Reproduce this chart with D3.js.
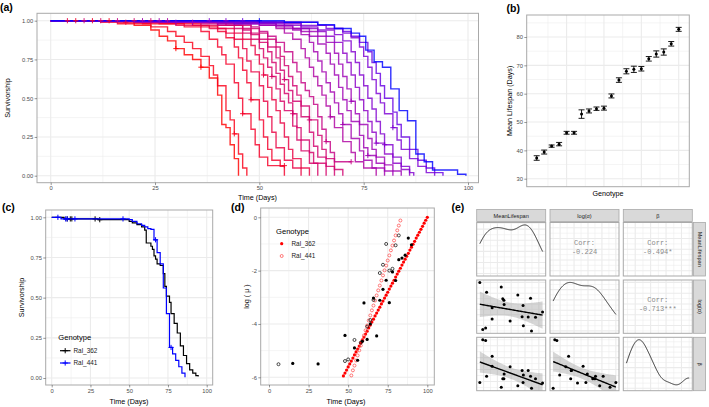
<!DOCTYPE html>
<html><head><meta charset="utf-8">
<script src="https://cdn.jsdelivr.net/npm/d3@7"></script>
<style>body{margin:0;background:#fff}svg{display:block}</style>
</head><body><svg id="c" width="709" height="407"></svg>
<script>
// ---------------- DATA ----------------
// (a) Kaplan-Meier curves for 20 genotypes (ordered by mean lifespan), [day, survivorship]
const survCurves = [
 [[0,1],[20,.97],[24,.94],[26,.90],[28,.87],[30,.82],[32,.78],[34,.75],[36,.70],[38,.63],[40,.52],[41,.33],[42,.31],[43,.20],[44,.11],[45,0]],
 [[0,1],[16,.98],[24,.96],[28,.93],[30,.90],[32,.86],[34,.82],[36,.77],[38,.71],[39,.65],[40,.58],[42,.42],[43,.36],[44,.27],[45,.14],[46,.05],[47,0]],
 [[0,1],[22,.98],[32,.96],[36,.93],[38,.88],[40,.83],[41,.78],[42,.72],[44,.60],[45,.50],[46,.40],[48,.30],[49,.20],[50,.12],[52,.065],[56,.065]],
 [[0,1],[26,.98],[36,.96],[40,.93],[42,.89],[44,.83],[45,.76],[46,.68],[47,.60],[48,.49],[50,.36],[51,.25],[52,.17],[53,.10],[55,.06],[56,0]],
 [[0,1],[12,.99],[30,.97],[38,.95],[42,.92],[44,.88],[46,.82],[47,.74],[48,.67],[50,.58],[51,.48],[52,.38],[53,.28],[54,.18],[56,.10],[58,.05],[60,0]],
 [[0,1],[20,.99],[34,.97],[40,.95],[44,.92],[46,.88],[48,.84],[49,.78],[50,.72],[51,.65],[52,.57],[53,.49],[54,.42],[55,.34],[56,.25],[57,.17],[58,.11],[60,.05],[62,0]],
 [[0,1],[24,.99],[40,.97],[44,.95],[46,.92],[48,.88],[50,.82],[51,.76],[52,.70],[53,.64],[54,.56],[55,.48],[56,.42],[58,.32],[59,.23],[60,.16],[62,.08],[64,0]],
 [[0,1],[30,.99],[42,.97],[46,.95],[48,.91],[50,.86],[52,.80],[53,.73],[54,.66],[55,.59],[56,.53],[57,.47],[58,.40],[59,.31],[60,.23],[62,.15],[63,.08],[66,0]],
 [[0,1],[20,.99],[40,.97],[46,.94],[48,.92],[50,.88],[52,.83],[54,.76],[55,.68],[56,.62],[57,.55],[58,.48],[60,.38],[62,.28],[63,.19],[64,.12],[66,.06],[68,0]],
 [[0,1],[28,.99],[44,.97],[48,.95],[50,.92],[52,.88],[54,.83],[55,.77],[56,.71],[57,.64],[58,.58],[59,.52],[60,.45],[62,.36],[64,.26],[65,.17],[66,.11],[68,.04],[70,0]],
 [[0,1],[36,.98],[48,.96],[50,.93],[52,.90],[54,.86],[56,.80],[58,.73],[59,.67],[60,.60],[61,.55],[62,.51],[63,.46],[64,.38],[65,.30],[66,.22],[67,.15],[68,.09],[72,.09]],
 [[0,1],[30,.99],[50,.97],[54,.95],[56,.92],[58,.88],[60,.82],[61,.76],[62,.70],[63,.64],[64,.58],[65,.52],[66,.45],[67,.38],[68,.31],[70,.22],[72,.15],[73,.09],[75,.05],[78,0]],
 [[0,1],[40,.98],[54,.96],[58,.94],[60,.91],[62,.86],[63,.80],[64,.74],[65,.67],[66,.60],[67,.54],[68,.47],[69,.40],[70,.33],[72,.24],[74,.16],[75,.10],[77,.05],[80,0]],
 [[0,1],[20,.99],[50,.97],[56,.95],[60,.93],[62,.90],[64,.85],[66,.79],[67,.72],[68,.65],[69,.57],[70,.49],[71,.42],[72,.35],[74,.26],[75,.18],[76,.13],[78,.08],[80,.03],[82,0]],
 [[0,1],[36,.99],[54,.97],[58,.95],[62,.93],[64,.90],[66,.86],[68,.79],[69,.72],[70,.64],[71,.56],[72,.48],[73,.40],[74,.33],[76,.24],[77,.17],[78,.12],[80,.07],[82,.03],[84,0]],
 [[0,1],[26,.99],[56,.97],[60,.95],[64,.93],[66,.90],[68,.86],[70,.79],[71,.73],[72,.65],[73,.57],[74,.49],[75,.42],[76,.35],[77,.28],[78,.21],[80,.14],[82,.08],[84,.04],[86,0]],
 [[0,1],[44,.98],[60,.96],[64,.94],[68,.91],[70,.87],[72,.80],[73,.73],[74,.65],[75,.58],[76,.50],[77,.43],[78,.35],[79,.27],[80,.20],[82,.12],[84,.06],[86,.02],[87,0]],
 [[0,1],[40,.99],[60,.97],[66,.95],[70,.92],[72,.89],[74,.83],[75,.77],[76,.70],[77,.62],[78,.53],[79,.47],[80,.40],[82,.31],[83,.23],[84,.17],[86,.11],[88,.06],[90,.02],[92,0]],
 [[0,1],[50,.99],[64,.97],[68,.95],[70,.93],[72,.90],[74,.86],[76,.80],[77,.73],[78,.66],[79,.58],[80,.50],[82,.41],[83,.33],[84,.25],[86,.17],[88,.10],[90,.05],[92,.02],[94,0]],
 [[0,1],[56,.99],[64,.975],[68,.95],[72,.92],[74,.90],[75.5,.81],[77.5,.735],[79.5,.70],[81.5,.56],[83.5,.42],[85.5,.355],[87.5,.14],[89.5,.09],[91.5,.037],[97.5,.009],[99.5,0]]
];
// censored observations [curve index, day]
const survCensor = [[5,4],[2,6],[8,8],[3,10],[6,12],[1,14],[10,16],[4,18],[7,20],[12,22],[9,24],[14,26],[11,28],[0,30],[15,30],[13,34],[17,38],[16,42],[18,46],[19,50],
 [0,36],[1,44],[2,46],[3,48],[5,51],[6,53],[7,58],[8,56],[9,62],[10,66],[11,67],[12,70],[13,76],[14,72],[15,78],[16,80],[17,82],[2,56],[10,72]];
const dayTicks = [0,25,50,75,100];
const dayMinor = [12.5,37.5,62.5,87.5];
const survTicks = [0,0.25,0.5,0.75,1];
const survLabels = ["0.00","0.25","0.50","0.75","1.00"];
const survMinor = [0.125,0.375,0.625,0.875];

// (b) mean lifespan per genotype (ranked) and standard errors
const genotypeRank = [1,2,3,4,5,6,7,8,9,10,11,12,13,14,15,16,17,18,19,20];
const meanLifespan = [37.3,39.4,41.5,42.2,46.2,46.2,52.8,53.9,54.7,54.9,59.2,64.8,67.9,68.6,68.8,72.3,74.0,74.7,77.6,82.7];
const lifespanSE = [0.8,0.7,0.4,0.6,0.5,0.5,1.5,0.7,0.6,0.7,0.7,0.8,0.9,1.1,0.8,0.8,1.1,1.1,0.8,0.7];
const lifeTicks = [30,40,50,60,70,80];
const lifeMinor = [35,45,55,65,75,85];
const rankMajor = [5,10,15,20];
const rankMinor = [2.5,7.5,12.5,17.5];

// (c) two genotypes
const genoNames = ["Ral_362","Ral_441"];
const ral362Surv = [[0,1],[8,.99],[30,.985],[50,.975],[52,.965],[55,.955],[58,.94],[60,.92],[61,.84],[64,.82],[65,.80],[66,.76],[67,.74],[68,.71],[70,.70],[72,.65],[73,.57],[74,.51],[76,.47],[77,.40],[79,.34],[81,.28],[83,.20],[85,.14],[87,.09],[89,.05],[91,.03],[93,.015],[94.5,.01]];
const ral441Surv = [[0,1],[6,.99],[50,.985],[52,.975],[55,.96],[58,.95],[60,.94],[62,.93],[64,.925],[66,.86],[68,.78],[70,.71],[72,.56],[74,.40],[76,.19],[78,.15],[80,.11],[82,.07],[84,.03],[86,.005]];
const ral362Censor = [10,12,13,28,31];
const ral441Censor = [4,9,10,15,46,67,77];

// (d) mortality: observed log(mu) (black) and fitted Gompertz (red)
const ral362ObsDay = [15,31,48,54,56,59,60,62,64,66,68,70,72,74,76,78,80,82,84,86,88,90];
const ral362ObsLogMu = [-5.48,-5.50,-4.43,-4.90,-5.36,-4.65,-3.21,-4.58,-4.00,-3.03,-4.45,-3.11,-2.70,-2.36,-3.20,-2.05,-2.37,-1.59,-1.53,-1.42,-0.78,-1.03];
const ral441ObsDay = [6,48,50,54,58,62,64,66,70,72,74,76,78,80,82];
const ral441ObsLogMu = [-5.51,-5.39,-5.33,-4.60,-4.70,-4.10,-3.85,-3.10,-2.09,-1.78,-1.00,-2.00,-1.93,-1.05,-0.68];
const ral362FitDay = [47,48,49,50,51,52,53,54,55,56,57,58,59,60,61,62,63,64,65,66,67,68,69,70,71,72,73,74,75,76,77,78,79,80,81,82,83,84,85,86,87,88,89,90,91,92,93,94,95,96,97,98,99,100];
const ral362FitLogMu = [-5.95,-5.84,-5.73,-5.61,-5.50,-5.39,-5.28,-5.16,-5.05,-4.94,-4.83,-4.71,-4.60,-4.49,-4.38,-4.27,-4.15,-4.04,-3.93,-3.82,-3.70,-3.59,-3.48,-3.37,-3.25,-3.14,-3.03,-2.92,-2.81,-2.69,-2.58,-2.47,-2.36,-2.24,-2.13,-2.02,-1.91,-1.79,-1.68,-1.57,-1.46,-1.35,-1.23,-1.12,-1.01,-0.90,-0.78,-0.67,-0.56,-0.45,-0.34,-0.22,-0.11,0.00];
const ral441FitDay = [52,53,54,55,56,57,58,59,60,61,62,63,64,65,66,67,68,69,70,71,72,73,74,75,76,77,78,79,80,81,82,83];
const ral441FitLogMu = [-5.93,-5.74,-5.56,-5.37,-5.18,-4.99,-4.81,-4.62,-4.43,-4.24,-4.06,-3.87,-3.68,-3.49,-3.31,-3.12,-2.93,-2.74,-2.56,-2.37,-2.18,-1.99,-1.81,-1.62,-1.43,-1.24,-1.06,-0.87,-0.68,-0.49,-0.31,-0.12];
const logMuTicks = [-6,-4,-2,0];
const logMuLabels = ["-6","-4","-2","0"];
const logMuMinor = [-5,-3,-1];

// (e) Gompertz parameters per genotype (same order as meanLifespan)
const logAlpha = [-6.0,-10.38,-10.23,-6.91,-9.39,-8.35,-6.42,-7.51,-7.66,-8.05,-9.59,-7.16,-9.19,-8.15,-10.03,-9.2,-7.46,-10.5,-9.24,-8.75];
const betaPar = [.0783,.150,.1487,.0889,.1223,.1056,.0704,.0845,.0845,.0924,.1047,.0730,.0986,.0783,.0907,.0986,.0889,.0686,.0845,.0774];
const pairVars = ["MeanLifespan","log(\u03b1)","\u03b2"];
const corrLabels = [["","-0.224","-0.494*"],["","","-0.713***"]];

// ---------------- DRAWING ----------------
const svg = d3.select("#c");
const F = "'Liberation Sans', Arial, Helvetica, sans-serif";
const GRID = "#ebebeb", BORDER = "#a9a9a9", TICKTXT = "#4d4d4d";
const TICK = 5.8, TITLE = 7.2;

function rect(box, fill, stroke, sw) {
  return svg.append("rect").attr("x", box[0]).attr("y", box[1]).attr("width", box[2]-box[0]).attr("height", box[3]-box[1])
    .attr("fill", fill).attr("stroke", stroke || "none").attr("stroke-width", sw || 0);
}
function grid(box, xs, xMaj, xMin, ys, yMaj, yMin) {
  const g = svg.append("g");
  const vl = (v, w) => g.append("line").attr("x1", xs(v)).attr("x2", xs(v)).attr("y1", box[1]).attr("y2", box[3]).attr("stroke", GRID).attr("stroke-width", w);
  const hl = (v, w) => g.append("line").attr("y1", ys(v)).attr("y2", ys(v)).attr("x1", box[0]).attr("x2", box[2]).attr("stroke", GRID).attr("stroke-width", w);
  xMin.forEach(v => vl(v, 0.55)); yMin.forEach(v => hl(v, 0.55));
  xMaj.forEach(v => vl(v, 1.1)); yMaj.forEach(v => hl(v, 1.1));
}
function text(x, y, s, o) {
  o = o || {};
  const t = svg.append("text").attr("x", x).attr("y", y).text(s)
    .attr("font-family", o.family || F).attr("font-size", o.size || TITLE)
    .attr("fill", o.fill || "#000").attr("text-anchor", o.anchor || "start");
  if (o.weight) t.attr("font-weight", o.weight);
  if (o.rotate) t.attr("transform", `rotate(${o.rotate},${x},${y})`);
  return t;
}
function styleAxis(a) {
  a.select(".domain").remove();
  a.selectAll("line").attr("stroke", "#333").attr("stroke-width", 0.5);
  a.selectAll("text").attr("fill", TICKTXT).attr("font-size", TICK).attr("font-family", F);
}
function yAxis(scale, ticks, labels, x) {
  const a = svg.append("g").attr("transform", `translate(${x},0)`)
    .call(d3.axisLeft(scale).tickValues(ticks).tickFormat((d, i) => labels[i]).tickSize(2.4).tickPadding(1.4));
  styleAxis(a);
}
function xAxis(scale, ticks, labels, y) {
  const a = svg.append("g").attr("transform", `translate(0,${y})`)
    .call(d3.axisBottom(scale).tickValues(ticks).tickFormat((d, i) => labels[i]).tickSize(2.4).tickPadding(1.2));
  styleAxis(a);
}
function clip(id, box) {
  svg.append("clipPath").attr("id", id).append("rect").attr("x", box[0]).attr("y", box[1]).attr("width", box[2]-box[0]).attr("height", box[3]-box[1]);
  return svg.append("g").attr("clip-path", `url(#${id})`);
}
function stepValue(curve, t) {
  let v = curve[0][1];
  for (const p of curve) { if (p[0] <= t) v = p[1]; else break; }
  return v;
}
function cross(g, x, y, col, sw) {
  g.append("path").attr("d", `M${x-2.6},${y}H${x+2.6}M${x},${y-2.6}V${y+2.6}`).attr("stroke", col).attr("stroke-width", sw || 1).attr("fill", "none");
}

// ---- (a) ----
{
  const box = [37, 13.3, 478.5, 182.7];
  const x = d3.scaleLinear().domain([0, 100]).range([50.7, 468]);
  const y = d3.scaleLinear().domain([0, 1]).range([175.7, 20.7]);
  rect(box, "#fff");
  grid(box, x, dayTicks, dayMinor, y, survTicks, survMinor);
  const g = clip("ca", box);
  // colour mapped from each genotype's mean lifespan (continuous red -> blue gradient)
  const colScale = d3.scaleLinear().domain(d3.extent(meanLifespan)).range(["#ff0000", "#0000ff"]).interpolate(d3.interpolateLab);
  const col = i => colScale(meanLifespan[i]);
  const line = d3.line().x(d => x(d[0])).y(d => y(d[1])).curve(d3.curveStepAfter);
  survCurves.forEach((c, i) => {
    g.append("path").attr("d", line(c)).attr("fill", "none").attr("stroke", col(i))
      .attr("stroke-width", 1.4).attr("stroke-opacity", 0.82);
  });
  survCensor.forEach(([i, t]) => {
    const c = survCurves[i];
    cross(g, x(t), y(stepValue(c, t)), col(i), 0.9);
  });
  rect(box, "none", BORDER, 1);
  yAxis(y, survTicks, survLabels, box[0]);
  xAxis(x, dayTicks, dayTicks.map(String), box[3]);
  text(9.8, 98, "Survivorship", {anchor: "middle", rotate: -90});
  text(257.5, 199.5, "Time (Days)", {anchor: "middle"});
  text(0, 10.5, "(a)", {size: 10.5, weight: "bold"});
}

// ---- (b) ----
{
  const box = [526.7, 15, 689.3, 186.7];
  const x = d3.scaleLinear().domain([1, 20]).range([536.7, 678.7]);
  const y = d3.scaleLinear().domain([30, 80]).range([178.7, 37]);
  rect(box, "#fff");
  grid(box, x, rankMajor, rankMinor, y, lifeTicks, lifeMinor);
  const g = svg.append("g");
  genotypeRank.forEach((r, i) => {
    const cx = x(r), lo = y(meanLifespan[i] - lifespanSE[i]), hi = y(meanLifespan[i] + lifespanSE[i]);
    g.append("path").attr("d", `M${cx-3},${lo}H${cx+3}M${cx-3},${hi}H${cx+3}M${cx},${lo}V${hi}`)
      .attr("stroke", "#000").attr("stroke-width", 0.9).attr("fill", "none");
    g.append("circle").attr("cx", cx).attr("cy", y(meanLifespan[i])).attr("r", 1.5).attr("fill", "#000");
  });
  rect(box, "none", BORDER, 1);
  yAxis(y, lifeTicks, lifeTicks.map(String), box[0]);
  text(512.5, 100.8, "Mean Lifespan (Days)", {anchor: "middle", rotate: -90});
  text(608, 195.5, "Genotype", {anchor: "middle"});
  text(506.5, 12, "(b)", {size: 10.5, weight: "bold"});
}

// ---- (c) ----
{
  const box = [45.7, 210, 212.7, 385];
  const x = d3.scaleLinear().domain([0, 100]).range([51.7, 206.7]);
  const y = d3.scaleLinear().domain([0, 1]).range([378, 217.3]);
  rect(box, "#fff");
  grid(box, x, dayTicks, dayMinor, y, survTicks, survMinor);
  const g = clip("cc", box);
  const line = d3.line().x(d => x(d[0])).y(d => y(d[1])).curve(d3.curveStepAfter);
  const sets = [[ral362Surv, ral362Censor, "#000"], [ral441Surv, ral441Censor, "#0000ff"]];
  sets.forEach(([c, cens, colr]) => {
    g.append("path").attr("d", line(c)).attr("fill", "none").attr("stroke", colr).attr("stroke-width", 1.2);
    cens.forEach(t => cross(g, x(t), y(stepValue(c, t)), colr, 1));
  });
  rect(box, "none", BORDER, 1);
  yAxis(y, survTicks, survLabels, box[0]);
  xAxis(x, dayTicks, dayTicks.map(String), box[3]);
  text(23.5, 297.5, "Survivorship", {anchor: "middle", rotate: -90});
  text(129, 403.5, "Time (Days)", {anchor: "middle"});
  text(2, 211, "(c)", {size: 10.5, weight: "bold"});
  // legend
  text(58.3, 339.5, "Genotype", {size: 7.6});
  sets.forEach(([c, cens, colr], i) => {
    const ly = 350.7 + i * 12.3;
    svg.append("line").attr("x1", 60).attr("x2", 70.5).attr("y1", ly).attr("y2", ly).attr("stroke", colr).attr("stroke-width", 1.2);
    cross(svg, 65.2, ly, colr, 1);
    text(73.5, ly + 2.2, genoNames[i], {size: 6.4, fill: "#1a1a1a"});
  });
}

// ---- (d) ----
{
  const box = [260.7, 208, 434.3, 385];
  const x = d3.scaleLinear().domain([0, 100]).range([269, 427.3]);
  const y = d3.scaleLinear().domain([-6, 0]).range([377.3, 217.3]);
  rect(box, "#fff");
  grid(box, x, dayTicks, dayMinor, y, logMuTicks, logMuMinor);
  const g = clip("cd", box);
  ral362FitDay.forEach((d, i) => g.append("circle").attr("cx", x(d)).attr("cy", y(ral362FitLogMu[i])).attr("r", 1.6).attr("fill", "#ff0000"));
  ral441FitDay.forEach((d, i) => g.append("circle").attr("cx", x(d)).attr("cy", y(ral441FitLogMu[i])).attr("r", 1.5).attr("fill", "none").attr("stroke", "#ff4040").attr("stroke-width", 0.7));
  ral441ObsDay.forEach((d, i) => g.append("circle").attr("cx", x(d)).attr("cy", y(ral441ObsLogMu[i])).attr("r", 1.5).attr("fill", "none").attr("stroke", "#000").attr("stroke-width", 0.7));
  ral362ObsDay.forEach((d, i) => g.append("circle").attr("cx", x(d)).attr("cy", y(ral362ObsLogMu[i])).attr("r", 1.6).attr("fill", "#000"));
  rect(box, "none", BORDER, 1);
  yAxis(y, logMuTicks, logMuLabels, box[0]);
  xAxis(x, dayTicks, dayTicks.map(String), box[3]);
  text(248.5, 296.5, "log ( \u03bc )", {anchor: "middle", rotate: -90});
  text(346, 403.5, "Time (Days)", {anchor: "middle"});
  text(231, 211, "(d)", {size: 10.5, weight: "bold"});
  text(276, 233.5, "Genotype", {size: 7.6});
  svg.append("circle").attr("cx", 281.7).attr("cy", 243.7).attr("r", 1.6).attr("fill", "#ff0000");
  svg.append("circle").attr("cx", 281.7).attr("cy", 256).attr("r", 1.5).attr("fill", "none").attr("stroke", "#ff4040").attr("stroke-width", 0.7);
  text(291.5, 246, genoNames[0], {size: 6.4, fill: "#1a1a1a"});
  text(291.5, 258.3, genoNames[1], {size: 6.4, fill: "#1a1a1a"});
}

// ---- (e) ----
{
  const cols = [[476.7, 545.7], [550, 619], [623.3, 692.3]];
  const rows = [[222.5, 276], [280, 333.3], [337.3, 390.7]];
  const vars = [meanLifespan, logAlpha, betaPar];
  const expand = (ext) => { const d = (ext[1] - ext[0]) * 0.05; return [ext[0] - d, ext[1] + d]; };
  const minors = (sc) => { const t = sc.ticks(5); const step = t[1] - t[0]; const out = []; const dm = sc.domain();
    for (let v = t[0] - step / 2; v <= dm[1]; v += step) if (v >= dm[0]) out.push(v); return out; };
  const varScaleX = (k, c) => d3.scaleLinear().domain(expand(d3.extent(vars[k]))).range(cols[c]);
  const varScaleY = (k, r) => d3.scaleLinear().domain(expand(d3.extent(vars[k]))).range([rows[r][1], rows[r][0]]);
  function kde(vals) {
    const n = vals.length, sd = d3.deviation(vals);
    const s = vals.slice().sort(d3.ascending);
    const q = d3.quantile(s, 0.75) - d3.quantile(s, 0.25);
    const bw = 0.9 * Math.min(sd, q / 1.34) * Math.pow(n, -0.2);
    const ext = d3.extent(vals), out = [];
    for (let j = 0; j <= 200; j++) {
      const t = ext[0] + (ext[1] - ext[0]) * j / 200;
      let acc = 0; vals.forEach(v => { const z = (t - v) / bw; acc += Math.exp(-0.5 * z * z); });
      out.push([t, acc / (n * bw * Math.sqrt(2 * Math.PI))]);
    }
    return out;
  }
  function lmBand(xv, yv) {
    const n = xv.length, mx = d3.mean(xv), my = d3.mean(yv);
    let sxx = 0, sxy = 0; xv.forEach((v, i) => { sxx += (v - mx) ** 2; sxy += (v - mx) * (yv[i] - my); });
    const b = sxy / sxx, a = my - b * mx;
    let sse = 0; xv.forEach((v, i) => { sse += (yv[i] - a - b * v) ** 2; });
    const s = Math.sqrt(sse / (n - 2)), tq = 2.101;
    const ext = d3.extent(xv), out = [];
    for (let j = 0; j <= 60; j++) {
      const t = ext[0] + (ext[1] - ext[0]) * j / 60;
      const f = a + b * t, se = s * Math.sqrt(1 / n + (t - mx) ** 2 / sxx);
      out.push([t, f, f - tq * se, f + tq * se]);
    }
    return out;
  }
  const MONO = "'Liberation Mono', 'DejaVu Sans Mono', monospace";
  for (let r = 0; r < 3; r++) {
    for (let c = 0; c < 3; c++) {
      const box = [cols[c][0], rows[r][0], cols[c][1], rows[r][1]];
      rect(box, "#fff");
      const xs = varScaleX(c, c);
      let ys, dens = null;
      if (r === c) {
        dens = kde(vars[c]);
        const mx = d3.max(dens, d => d[1]);
        ys = d3.scaleLinear().domain([-0.05 * mx, mx * 1.05]).range([rows[r][1], rows[r][0]]);
      } else {
        ys = varScaleY(r, r);
      }
      grid(box, xs, xs.ticks(5), minors(xs), ys, ys.ticks(5), minors(ys));
      const g = clip(`ce${r}${c}`, box);
      if (r === c) {
        g.append("path").attr("d", d3.line().x(d => xs(d[0])).y(d => ys(d[1]))(dens)).attr("fill", "none").attr("stroke", "#1a1a1a").attr("stroke-width", 0.9);
      } else if (r > c) {
        const band = lmBand(vars[c], vars[r]);
        g.append("path").attr("d", d3.area().x(d => xs(d[0])).y0(d => ys(d[2])).y1(d => ys(d[3]))(band)).attr("fill", "#999").attr("fill-opacity", 0.4);
        vars[c].forEach((v, i) => g.append("circle").attr("cx", xs(v)).attr("cy", ys(vars[r][i])).attr("r", 1.5).attr("fill", "#000"));
        g.append("path").attr("d", d3.line().x(d => xs(d[0])).y(d => ys(d[1]))(band)).attr("fill", "none").attr("stroke", "#000").attr("stroke-width", 1.4);
      } else {
        const cx = (box[0] + box[2]) / 2;
        text(cx, rows[r][0] + 22, "Corr:", {family: MONO, size: 7, fill: "#8a8a8a", anchor: "middle"});
        text(cx, rows[r][0] + 31, corrLabels[r][c], {family: MONO, size: 7, fill: "#8a8a8a", anchor: "middle"});
      }
      rect(box, "none", BORDER, 1);
    }
  }
  cols.forEach((cc, i) => {
    rect([cc[0], 209.5, cc[1], 221.5], "#d9d9d9", BORDER, 0.8);
    text((cc[0] + cc[1]) / 2, 217.6, pairVars[i], {size: 5.6, fill: "#1a1a1a", anchor: "middle"});
  });
  rows.forEach((rr, i) => {
    rect([693.5, rr[0], 705.5, rr[1]], "#d9d9d9", BORDER, 0.8);
    const cy = (rr[0] + rr[1]) / 2;
    text(697.5, cy, pairVars[i], {size: 5.6, fill: "#1a1a1a", anchor: "middle", rotate: 90});
  });
  text(451.5, 211, "(e)", {size: 10.5, weight: "bold"});
}
</script>
</body></html>
